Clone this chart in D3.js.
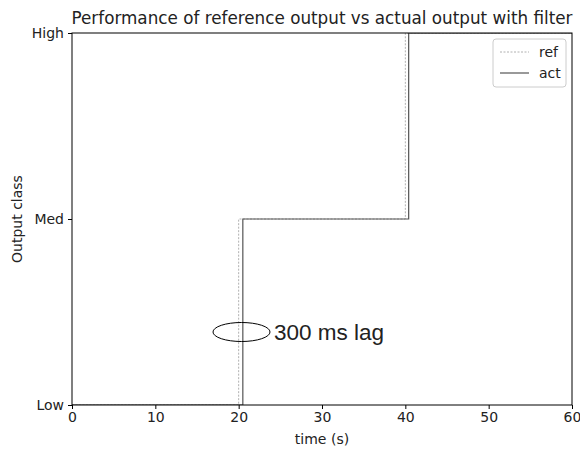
<!DOCTYPE html>
<html>
<head>
<meta charset="utf-8">
<script src="https://cdn.jsdelivr.net/npm/d3@7"></script>
<style>
  body { margin: 0; background: #fff; }
  text { font-family: "DejaVu Sans", sans-serif; fill: #222; }
</style>
</head>
<body>
<svg width="580" height="452"></svg>
<script>
// step times (s) and output class levels
var classes = ["Low", "Med", "High"];
var refTimes = [0, 20, 40, 60];
var refLevels = ["Low", "Med", "High", "High"];
var actTimes = [0, 20.5, 40.4, 60];
var actLevels = ["Low", "Med", "High", "High"];
var xTicks = [0, 10, 20, 30, 40, 50, 60];

var svg = d3.select("svg");
var margin = { left: 72, right: 8, top: 33, bottom: 47 };
var W = 580, H = 452;

var x = d3.scaleLinear().domain([0, 60]).range([margin.left, W - margin.right]);
var y = d3.scalePoint().domain(classes).range([H - margin.bottom, margin.top]);

svg.append("clipPath").attr("id", "clip")
    .append("rect")
    .attr("x", margin.left).attr("y", margin.top)
    .attr("width", W - margin.left - margin.right)
    .attr("height", H - margin.top - margin.bottom);

function series(times, levels) {
    return times.map(function (t, i) { return [t, levels[i]]; });
}

var line = d3.line()
    .x(function (d) { return x(d[0]); })
    .y(function (d) { return y(d[1]); })
    .curve(d3.curveStepAfter);

var g = svg.append("g").attr("clip-path", "url(#clip)");
g.append("path")
    .datum(series(refTimes, refLevels))
    .attr("d", line)
    .attr("fill", "none")
    .attr("stroke", "#b0b0b0")
    .attr("stroke-width", 1)
    .attr("stroke-dasharray", "2,1.5");
g.append("path")
    .datum(series(actTimes, actLevels))
    .attr("d", line)
    .attr("fill", "none")
    .attr("stroke", "#555")
    .attr("stroke-width", 1.2);

// frame
svg.append("rect")
    .attr("x", margin.left).attr("y", margin.top)
    .attr("width", W - margin.left - margin.right)
    .attr("height", H - margin.top - margin.bottom)
    .attr("fill", "none").attr("stroke", "#000").attr("stroke-width", 1);

var xAxis = svg.append("g")
    .attr("transform", "translate(0," + (H - margin.bottom) + ")")
    .call(d3.axisBottom(x).tickValues(xTicks).tickSize(4).tickPadding(3));
var yAxis = svg.append("g")
    .attr("transform", "translate(" + margin.left + ",0)")
    .call(d3.axisLeft(y).tickSize(4).tickPadding(4));
[xAxis, yAxis].forEach(function (a) {
    a.select(".domain").remove();
    a.selectAll("text").style("font-size", "14px").attr("fill", "#222");
});

svg.append("text")
    .attr("x", (margin.left + W - margin.right) / 2).attr("y", 24)
    .attr("text-anchor", "middle").style("font-size", "16.8px")
    .text("Performance of reference output vs actual output with filter");
svg.append("text")
    .attr("x", (margin.left + W - margin.right) / 2).attr("y", 444)
    .attr("text-anchor", "middle").style("font-size", "14px")
    .text("time (s)");
svg.append("text")
    .attr("transform", "translate(22," + ((margin.top + H - margin.bottom) / 2) + ") rotate(-90)")
    .attr("text-anchor", "middle").style("font-size", "14px")
    .text("Output class");

// annotation
svg.append("ellipse")
    .attr("cx", 241.5).attr("cy", 332).attr("rx", 28.5).attr("ry", 9.5)
    .attr("fill", "none").attr("stroke", "#000").attr("stroke-width", 1);
svg.append("text")
    .attr("x", 274).attr("y", 340)
    .style("font-family", "Liberation Sans, Arial, sans-serif")
    .style("font-size", "22.5px").attr("fill", "#000")
    .text("300 ms lag");

// legend
var lg = svg.append("g").attr("transform", "translate(493,39)");
lg.append("rect").attr("width", 73).attr("height", 48).attr("rx", 3)
    .attr("fill", "#fff").attr("stroke", "#ccc");
var items = [
    { name: "ref", stroke: "#b0b0b0", dash: "2,1.5", w: 1 },
    { name: "act", stroke: "#555", dash: null, w: 1.2 }
];
items.forEach(function (it, i) {
    var yy = 13 + i * 21;
    lg.append("line").attr("x1", 7).attr("x2", 36).attr("y1", yy).attr("y2", yy)
        .attr("stroke", it.stroke).attr("stroke-width", it.w)
        .attr("stroke-dasharray", it.dash);
    lg.append("text").attr("x", 46).attr("y", yy + 5)
        .style("font-size", "14px").text(it.name);
});
</script>
</body>
</html>
